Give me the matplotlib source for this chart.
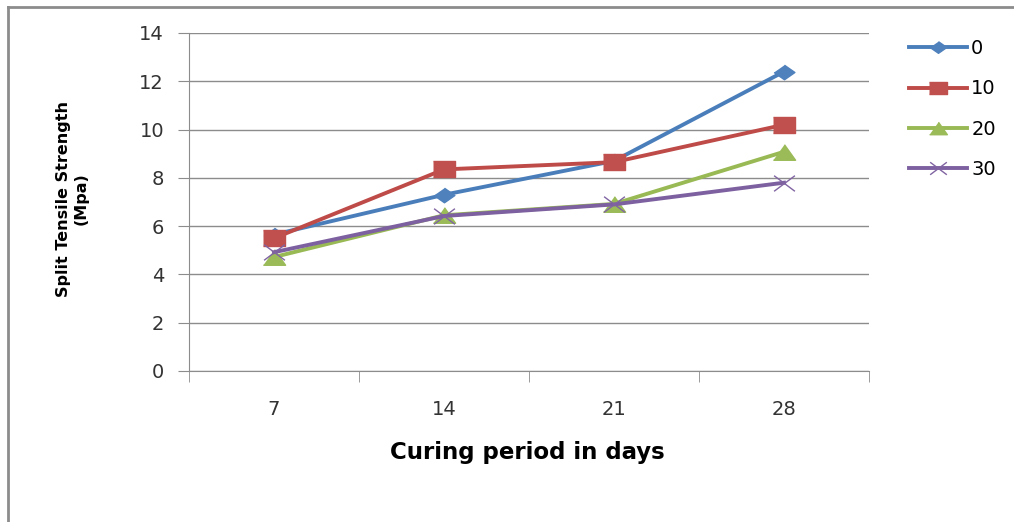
import numpy as np
import matplotlib.pyplot as plt
from matplotlib.lines import Line2D
from matplotlib.path import Path

days = ['7', '14', '21', '28']
s0 = [5.65, 7.3, 8.7, 12.4]
s10 = [5.5, 8.35, 8.65, 10.2]
s20 = [4.72, 6.45, 6.92, 9.08]
s30 = [4.92, 6.42, 6.9, 7.8]
labels = ['0', '10', '20', '30']

plt.rcParams['font.family'] = ['DejaVu Sans']

# slightly wide markers
diamond = [(-1, 0), (0, -0.7), (1, 0), (0, 0.7)]
rect = [(-1, -0.73), (1, -0.73), (1, 0.73), (-1, 0.73)]
tri = [(-1, -0.7), (1, -0.7), (0, 0.7)]
cross = Path([(-1, -0.75), (1, 0.75), (-1, 0.75), (1, -0.75)],
             [Path.MOVETO, Path.LINETO, Path.MOVETO, Path.LINETO])

fig = plt.figure(figsize=(10.14, 5.22), dpi=100)
ax = fig.add_axes([189/1014, 1-371/522, 680/1014, 338/522])

x = np.arange(len(days))
ax.plot(x, s0, color='#4A7EBB', lw=2.8, marker=diamond, ms=15, mfc='#4F81BD', mec='#4F81BD', label=labels[0])
ax.plot(x, s10, color='#BE4B48', lw=2.8, marker=rect, ms=16, mfc='#C0504D', mec='#C0504D', label=labels[1])
ax.plot(x, s20, color='#98B954', lw=2.8, marker=tri, ms=16, mfc='#9BBB59', mec='#9BBB59', label=labels[2])
ax.plot(x, s30, color='#7D60A0', lw=2.8, marker=cross, ms=15, mew=1, mfc='none', mec='#8064A2', label=labels[3])

ax.set_xlim(-0.5, 3.5)
ax.set_ylim(0, 14)
ax.set_yticks(np.arange(0, 15, 2))
ax.set_xticks(x)
ax.set_xticklabels(days)
ax.set_xticks(np.arange(-0.5, 4, 1), minor=True)
ax.grid(axis='y', color='#8c8c8c', lw=1)
ax.set_axisbelow(True)
for s in ['top', 'right']:
    ax.spines[s].set_visible(False)
for s in ['left', 'bottom']:
    ax.spines[s].set_color('#8c8c8c')
ax.tick_params(axis='y', length=8, color='#8c8c8c', labelsize=14, labelcolor='#333333', pad=10)
ax.tick_params(axis='x', which='major', length=0, labelsize=14, labelcolor='#333333', pad=21)
ax.tick_params(axis='x', which='minor', length=8, color='#8c8c8c')

fig.text(527/1014, 1-452/522, 'Curing period in days', fontsize=16.5, fontweight='bold',
         ha='center', va='center')
fig.text(72/1014, 1-199/522, 'Split Tensile Strength\n(Mpa)', fontsize=11.5, fontweight='bold',
         rotation=90, ha='center', va='center', multialignment='center', linespacing=1.2)

ax.legend(loc='upper left', bbox_to_anchor=(909/1014, 1-39/522), bbox_transform=fig.transFigure,
          frameon=False, fontsize=14, handlelength=3.0, handletextpad=0.2, labelspacing=1.1,
          borderaxespad=0, borderpad=0, markerscale=0.8)

# outer chart frame, left and top edges only
fig.add_artist(Line2D([8/1014, 8/1014], [0, 1-7/522], color='#8c8c8c', lw=2))
fig.add_artist(Line2D([8/1014, 1], [1-7/522, 1-7/522], color='#8c8c8c', lw=2))

fig.savefig('out.png', dpi=100)
